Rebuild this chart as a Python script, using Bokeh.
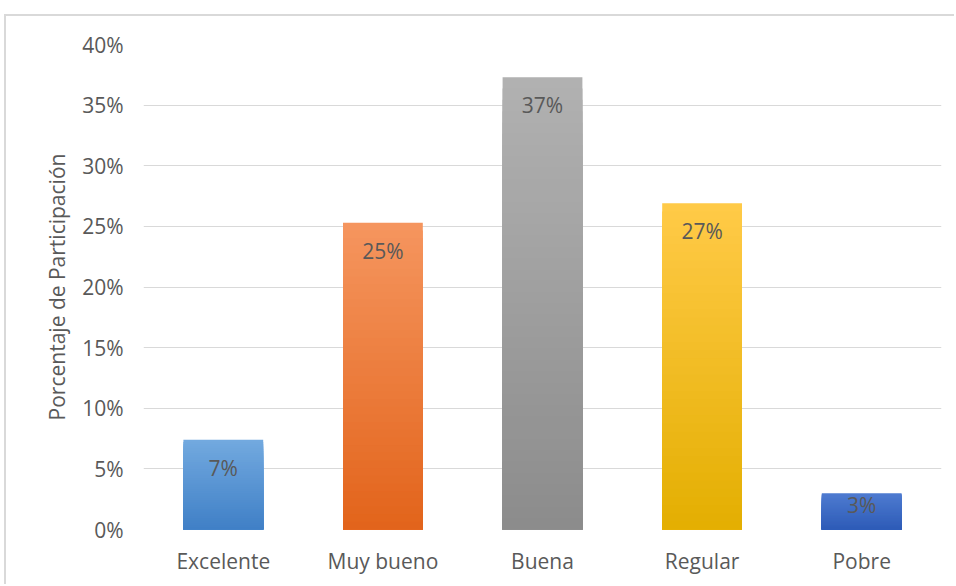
from bokeh.plotting import figure
from bokeh.models import ColumnDataSource, Range1d, FixedTicker, NumeralTickFormatter
from bokeh.core.properties import value
from bokeh.embed import file_html
from bokeh.resources import INLINE

categories = ["Excelente", "Muy bueno", "Buena", "Regular", "Pobre"]
values = [0.074, 0.253, 0.373, 0.269, 0.030]
data_labels = ["7%", "25%", "37%", "27%", "3%"]
y_ticks = [0.0, 0.05, 0.10, 0.15, 0.20, 0.25, 0.30, 0.35, 0.40]

top_colors = ["#72a9df", "#f5955e", "#b1b1b1", "#ffca47", "#4e7bd0"]
bottom_colors = ["#3f7fc6", "#e2631a", "#8b8b8b", "#e3ae00", "#2d5bb7"]

FONT = "Open Sans"
TXT = "#595959"

p = figure(x_range=categories, y_range=Range1d(0, 0.40), width=950, height=570,
           output_backend="svg", toolbar_location=None,
           min_border_left=137, min_border_right=15, min_border_top=28, min_border_bottom=57)
p.styles = {"margin-left": "4px", "margin-top": "14px",
            "border-left": "2px solid #d9d9d9", "border-top": "2px solid #d9d9d9"}
p.outline_line_color = None
p.xgrid.grid_line_color = None
p.ygrid.grid_line_color = "#d9d9d9"
p.ygrid.grid_line_width = 1

def hex2rgb(h):
    h = h.lstrip("#")
    return tuple(int(h[i:i + 2], 16) for i in (0, 2, 4))

def rgb2hex(c):
    return "#%02x%02x%02x" % tuple(int(round(v)) for v in c)

# gradient bars: overdraw progressively shorter bars, light at top, dark at bottom
N = 40
xs, tops, cols = [], [], []
for cat, v, tc, bc in zip(categories, values, top_colors, bottom_colors):
    t = hex2rgb(tc)
    b = hex2rgb(bc)
    for i in range(N):
        frac = 1 - i / N  # height fraction of this layer
        col = tuple(b[k] + (t[k] - b[k]) * frac for k in range(3))
        xs.append(cat)
        tops.append(v * frac)
        cols.append(rgb2hex(col))
src = ColumnDataSource(dict(x=xs, top=tops, color=cols))
p.vbar(x="x", top="top", bottom=0, width=0.5, fill_color="color", line_color=None, source=src)

offsets = [28 if v > 0.05 else 12 for v in values]
lsrc = ColumnDataSource(dict(x=categories, y=values, text=data_labels, off=offsets))
p.text(x="x", y="y", text="text", y_offset="off", source=lsrc, text_align="center",
       text_baseline="middle", text_font=value(FONT), text_font_size="21px", text_color=TXT)

p.yaxis.ticker = FixedTicker(ticks=y_ticks)
p.yaxis.formatter = NumeralTickFormatter(format="0%")
p.yaxis.axis_label = "Porcentaje de Participación"
for ax in (p.xaxis[0], p.yaxis[0]):
    ax.axis_line_color = None
    ax.major_tick_line_color = None
    ax.minor_tick_line_color = None
    ax.major_tick_out = 0
    ax.major_tick_in = 0
    ax.major_label_text_font = FONT
    ax.major_label_text_font_size = "21px"
    ax.major_label_text_color = TXT
p.yaxis.major_label_standoff = 20
p.yaxis.axis_label_text_font = FONT
p.yaxis.axis_label_text_font_size = "21px"
p.yaxis.axis_label_text_font_style = "normal"
p.yaxis.axis_label_text_color = TXT
p.yaxis.axis_label_standoff = 8
p.xaxis.major_label_standoff = 17

open("out.html", "w").write(file_html(p, INLINE))
